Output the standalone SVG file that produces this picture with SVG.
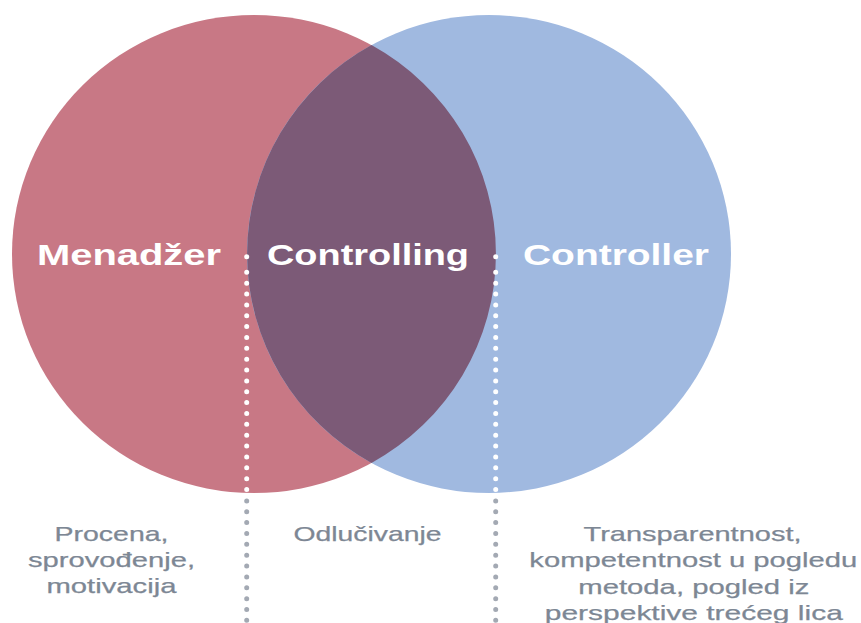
<svg xmlns="http://www.w3.org/2000/svg" width="861" height="623" viewBox="0 0 861 623">
<style>
.title{font-family:"Liberation Sans",Arial,sans-serif;font-weight:bold;font-size:30px;fill:#ffffff}
.lbl{font-family:"Liberation Sans",Arial,sans-serif;font-size:21px;fill:#7D8794;stroke:#7D8794;stroke-width:0.25;text-anchor:middle}
.dw{stroke:#ffffff;stroke-width:5;stroke-linecap:round;stroke-dasharray:0 10.86;fill:none}
.dg{stroke:#A3A9B3;stroke-width:5;stroke-linecap:round;stroke-dasharray:0 10.86;fill:none}
</style>
<rect width="861" height="623" fill="#ffffff"/>
<g id="menadzer">
<ellipse cx="254" cy="254" rx="242" ry="239" fill="#C87885"/>
<text class="title" x="37" y="265" textLength="184" lengthAdjust="spacingAndGlyphs">Menadžer</text>
</g>
<g id="controller">
<ellipse cx="489" cy="254" rx="242" ry="239" fill="#A0B9E0"/>
<text class="title" x="523" y="265" textLength="186" lengthAdjust="spacingAndGlyphs">Controller</text>
</g>
<g id="controlling">
<path d="M371.5,45.1 A242,239 0 0,1 371.5,462.9 A242,239 0 0,1 371.5,45.1 Z" fill="#7C5A77"/>
<text class="title" x="267" y="265" textLength="202" lengthAdjust="spacingAndGlyphs">Controlling</text>
</g>
<g id="connectors">
<circle cx="246.7" cy="256.7" r="2.5" fill="#ffffff"/>
<circle cx="495.7" cy="256.7" r="2.5" fill="#ffffff"/>
<line class="dw" x1="246.7" y1="272.3" x2="246.7" y2="492"/>
<line class="dg" x1="246.7" y1="500.9" x2="246.7" y2="630"/>
<line class="dw" x1="495.7" y1="272.3" x2="495.7" y2="492"/>
<line class="dg" x1="495.7" y1="500.9" x2="495.7" y2="630"/>
</g>
<g id="label-menadzer">
<text class="lbl" x="111.5" y="541" textLength="114" lengthAdjust="spacingAndGlyphs">Procena,</text>
<text class="lbl" x="111.5" y="567" textLength="167" lengthAdjust="spacingAndGlyphs">sprovođenje,</text>
<text class="lbl" x="111.5" y="593" textLength="130" lengthAdjust="spacingAndGlyphs">motivacija</text>
</g>
<g id="label-controlling">
<text class="lbl" x="367.5" y="540.5" textLength="148" lengthAdjust="spacingAndGlyphs">Odlučivanje</text>
</g>
<g id="label-controller">
<text class="lbl" x="692.5" y="541" textLength="218" lengthAdjust="spacingAndGlyphs">Transparentnost,</text>
<text class="lbl" x="693.3" y="567" textLength="328" lengthAdjust="spacingAndGlyphs">kompetentnost u pogledu</text>
<text class="lbl" x="693.8" y="593.5" textLength="231" lengthAdjust="spacingAndGlyphs">metoda, pogled iz</text>
<text class="lbl" x="693.8" y="620" textLength="298" lengthAdjust="spacingAndGlyphs">perspektive trećeg lica</text>
</g>
</svg>
